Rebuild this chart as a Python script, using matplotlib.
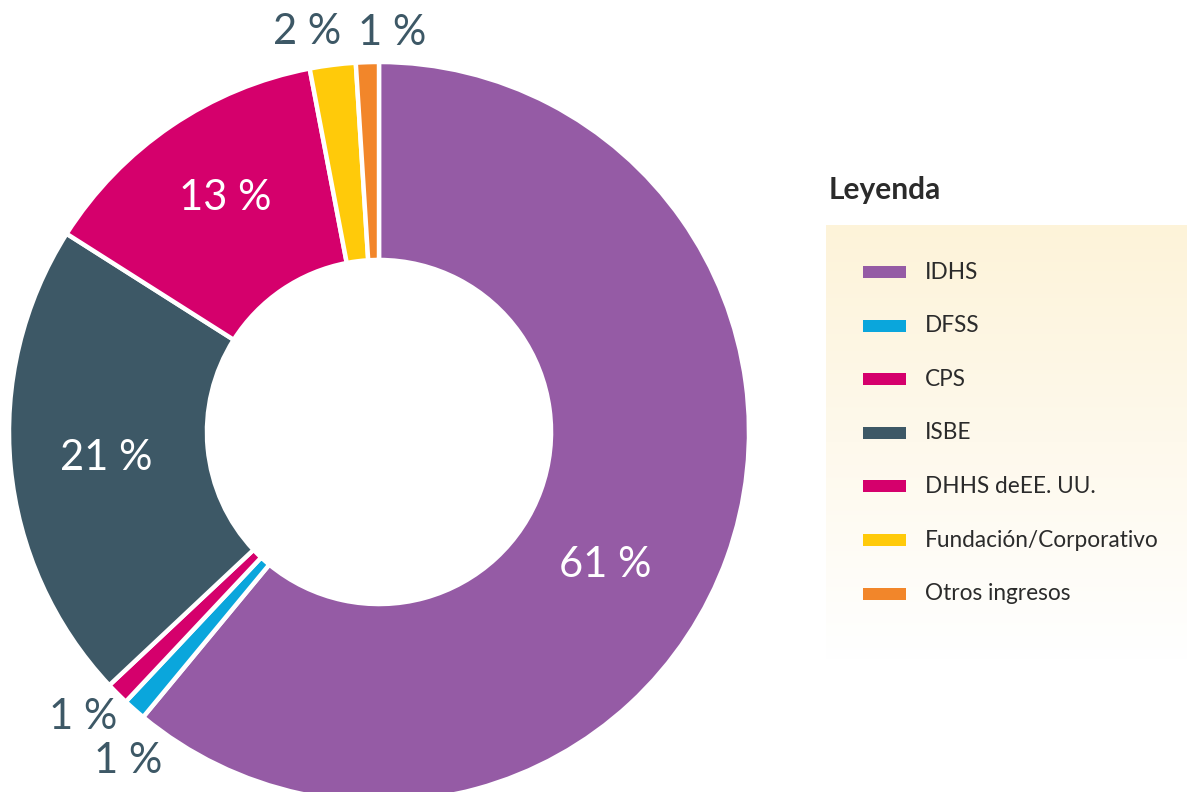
import numpy as np
import matplotlib.pyplot as plt
from matplotlib.patches import Rectangle

labels = ['IDHS', 'DFSS', 'CPS', 'ISBE', 'DHHS deEE. UU.', 'Fundación/Corporativo', 'Otros ingresos']
values = [61, 1, 1, 21, 13, 2, 1]
colors = ['#955ba5', '#0aa6dc', '#d5006c', '#3d5866', '#d5006c', '#ffca0a', '#f2862a']
pct_text = ['61 %', '1 %', '1 %', '21 %', '13 %', '2 %', '1 %']

# label placement: radius from centre, nudge (in radius units), inside/outside
label_r = [0.74, 1.16, 1.13, 0.74, 0.74, 1.08, 1.08]
label_nudge = [(-0.085, -0.11), (0.09, -0.02), (0.0, 0.03), (0.0, 0.0), (0.0, 0.02), (-0.06, 0.01), (0.07, 0.0)]
label_inside = [True, False, False, True, True, False, False]

plt.rcParams['font.family'] = ['Lato', 'DejaVu Sans']

W, H = 1187, 792
fig = plt.figure(figsize=(W / 100, H / 100), dpi=100)

# donut
cx, cy, R = 379, 432, 370
ax = fig.add_axes([(cx - R) / W, (H - cy - R) / H, 2 * R / W, 2 * R / H])
wedges, _ = ax.pie(values, colors=colors, startangle=90, counterclock=False,
                   wedgeprops=dict(width=0.535, edgecolor='white', linewidth=3.2))
ax.set_xlim(-1, 1)
ax.set_ylim(-1, 1)
ax.set_aspect('equal')
ax.axis('off')

for i, w in enumerate(wedges):
    ang = np.deg2rad((w.theta1 + w.theta2) / 2)
    x = label_r[i] * np.cos(ang) + label_nudge[i][0]
    y = label_r[i] * np.sin(ang) + label_nudge[i][1]
    col = 'white' if label_inside[i] else '#3d5866'
    ax.text(x, y, pct_text[i], ha='center', va='center', fontsize=30,
            color=col, fontweight='normal', clip_on=False)

# legend panel
lx0, lx1, ly0, ly1 = 826, 1187, 225, 660
lax = fig.add_axes([lx0 / W, (H - ly1) / H, (lx1 - lx0) / W, (ly1 - ly0) / H])
lax.set_xlim(lx0, lx1)
lax.set_ylim(ly1, ly0)
lax.axis('off')
top = np.array([253, 243, 217]) / 255
bot = np.array([255, 255, 255]) / 255
t = np.linspace(0, 1, 256)[:, None, None]
grad = top * (1 - t) + bot * t
lax.imshow(np.repeat(grad, 2, axis=1), extent=[lx0, lx1, ly1, ly0], aspect='auto', zorder=0)

fig.text(829 / W, 1 - 190 / H, 'Leyenda', fontsize=21.5, fontweight='bold',
         color='#2b2b2b', va='center', ha='left')

y0, dy = 272, 53.6
for i, lab in enumerate(labels):
    yy = y0 + i * dy
    lax.add_patch(Rectangle((863, yy - 6), 43, 12, facecolor=colors[i], edgecolor='none', zorder=2))
    lax.text(925, yy, lab, fontsize=16.3, color='#2b2b2b', va='center', ha='left', zorder=3)

fig.savefig('out.png', dpi=100)
